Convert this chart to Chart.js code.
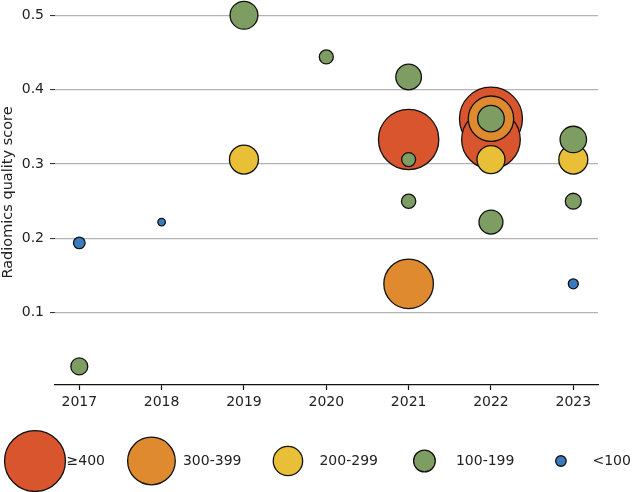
<!DOCTYPE html>
<html>
<head>
<meta charset="utf-8">
<script src="https://cdn.jsdelivr.net/npm/chart.js@4.4.1/dist/chart.umd.min.js"></script>
<style>
  html, body { margin: 0; padding: 0; background: #fff; }
  #wrap { width: 633px; height: 492px; }
</style>
</head>
<body>
<div id="wrap"><canvas id="grafico" width="633" height="492"></canvas></div>
<script>
// datos (puntaje RQS por año, tamaño = tamaño de muestra)
const categorias = ["\u2265400", "300-399", "200-299", "100-199", "<100"]
const colores = ["#D9552E", "#E08A2F", "#E8BF36", "#7E9D62", "#3A7BBF"]
const tamLeyenda = [435, 340, 210, 155, 75]

const aniosRojo = [2021, 2022, 2022]
const rqsRojo = [0.333, 0.361, 0.333]
const nRojo = [431, 450, 419]

const aniosNaranja = [2021, 2022]
const rqsNaranja = [0.139, 0.361]
const nNaranja = [354, 324]

const aniosAmarillo = [2019, 2022, 2023]
const rqsAmarillo = [0.306, 0.306, 0.306]
const nAmarillo = [207, 200, 207]

const aniosVerde = [2017, 2019, 2020, 2021, 2021, 2021, 2022, 2022, 2023, 2023]
const rqsVerde = [0.028, 0.5, 0.444, 0.417, 0.306, 0.25, 0.361, 0.222, 0.333, 0.25]
const nVerde = [121, 199, 100, 183, 100, 102, 190, 171, 189, 114]

const aniosAzul = [2017, 2018, 2023]
const rqsAzul = [0.194, 0.222, 0.139]
const nAzul = [83, 54, 71]

const ticksX = [2017, 2018, 2019, 2020, 2021, 2022, 2023]
const ticksY = [0.1, 0.2, 0.3, 0.4, 0.5]

let radio = (n) => n * 0.07

let armarSerie = (anios, rqs, ns, i) => {
    let puntos = []
    for (let k = 0; k < anios.length; k++) {
        puntos.push({ x: anios[k], y: rqs[k], r: radio(ns[k]) })
    }
    return {
        label: categorias[i],
        data: puntos,
        backgroundColor: colores[i],
        borderColor: "#111",
        borderWidth: 1.3,
        clip: false,
        order: categorias.length - i   // los grandes se dibujan primero
    }
}

// leyenda dibujada abajo, al estilo matplotlib
const leyendaAbajo = {
    id: "leyendaAbajo",
    afterDraw(chart) {
        const ctx = chart.ctx
        ctx.save()
        ctx.font = "14px 'DejaVu Sans'"
        ctx.textBaseline = "middle"
        let cx = 35
        const cy = 461
        for (let i = 0; i < categorias.length; i++) {
            ctx.beginPath()
            ctx.arc(cx, cy, radio(tamLeyenda[i]), 0, Math.PI * 2)
            ctx.fillStyle = colores[i]
            ctx.fill()
            ctx.lineWidth = 1.3
            ctx.strokeStyle = "#111"
            ctx.stroke()
            let tx = cx + 31.5
            ctx.fillStyle = "#222"
            ctx.fillText(categorias[i], tx, cy)
            cx = tx + ctx.measureText(categorias[i]).width + 46.5
        }
        ctx.restore()
    }
}

let cargarGrafico = () => {
    const ctx = document.getElementById("grafico").getContext("2d")
    new Chart(ctx, {
        type: "bubble",
        data: {
            datasets: [
                armarSerie(aniosRojo, rqsRojo, nRojo, 0),
                armarSerie(aniosNaranja, rqsNaranja, nNaranja, 1),
                armarSerie(aniosAmarillo, rqsAmarillo, nAmarillo, 2),
                armarSerie(aniosVerde, rqsVerde, nVerde, 3),
                armarSerie(aniosAzul, rqsAzul, nAzul, 4)
            ]
        },
        options: {
            responsive: false,
            devicePixelRatio: 1,
            animation: false,
            events: [],
            layout: { autoPadding: false, padding: { left: 0, right: 35, top: 0, bottom: 80 } },
            plugins: {
                legend: { display: false },
                tooltip: { enabled: false }
            },
            scales: {
                x: {
                    type: "linear",
                    min: 2016.705,
                    max: 2023.3,
                    afterBuildTicks: (s) => { s.ticks = ticksX.map(v => ({ value: v })) },
                    afterFit: (s) => { s.height = 27; s.paddingLeft = 0; s.paddingRight = 0 },
                    border: { display: true, color: "#111", width: 1.3 },
                    grid: { drawOnChartArea: false, drawTicks: true, tickLength: 5, tickColor: "#111", tickWidth: 1.2 },
                    ticks: {
                        color: "#222",
                        padding: 4,
                        maxRotation: 0,
                        font: { size: 14, family: "DejaVu Sans" },
                        callback: (v) => String(v)
                    }
                },
                y: {
                    min: 0.003,
                    max: 0.5205,
                    afterBuildTicks: (s) => { s.ticks = ticksY.map(v => ({ value: v })) },
                    afterFit: (s) => { s.width = 55; s.paddingTop = 0; s.paddingBottom = 0 },
                    border: { display: false },
                    grid: { color: "#b3b3b3", lineWidth: 1.2, drawTicks: true, tickLength: 5, tickColor: "#222", tickWidth: 1 },
                    ticks: {
                        color: "#222",
                        padding: 6,
                        font: { size: 14, family: "DejaVu Sans" },
                        callback: (v) => v.toFixed(1)
                    },
                    title: {
                        display: true,
                        text: "Radiomics quality score",
                        color: "#222",
                        padding: { top: 0, bottom: 0 },
                        font: { size: 14.5, family: "DejaVu Sans" }
                    }
                }
            }
        },
        plugins: [leyendaAbajo]
    })
}

window.addEventListener("DOMContentLoaded", (event) => {
    cargarGrafico()
})
</script>
</body>
</html>
